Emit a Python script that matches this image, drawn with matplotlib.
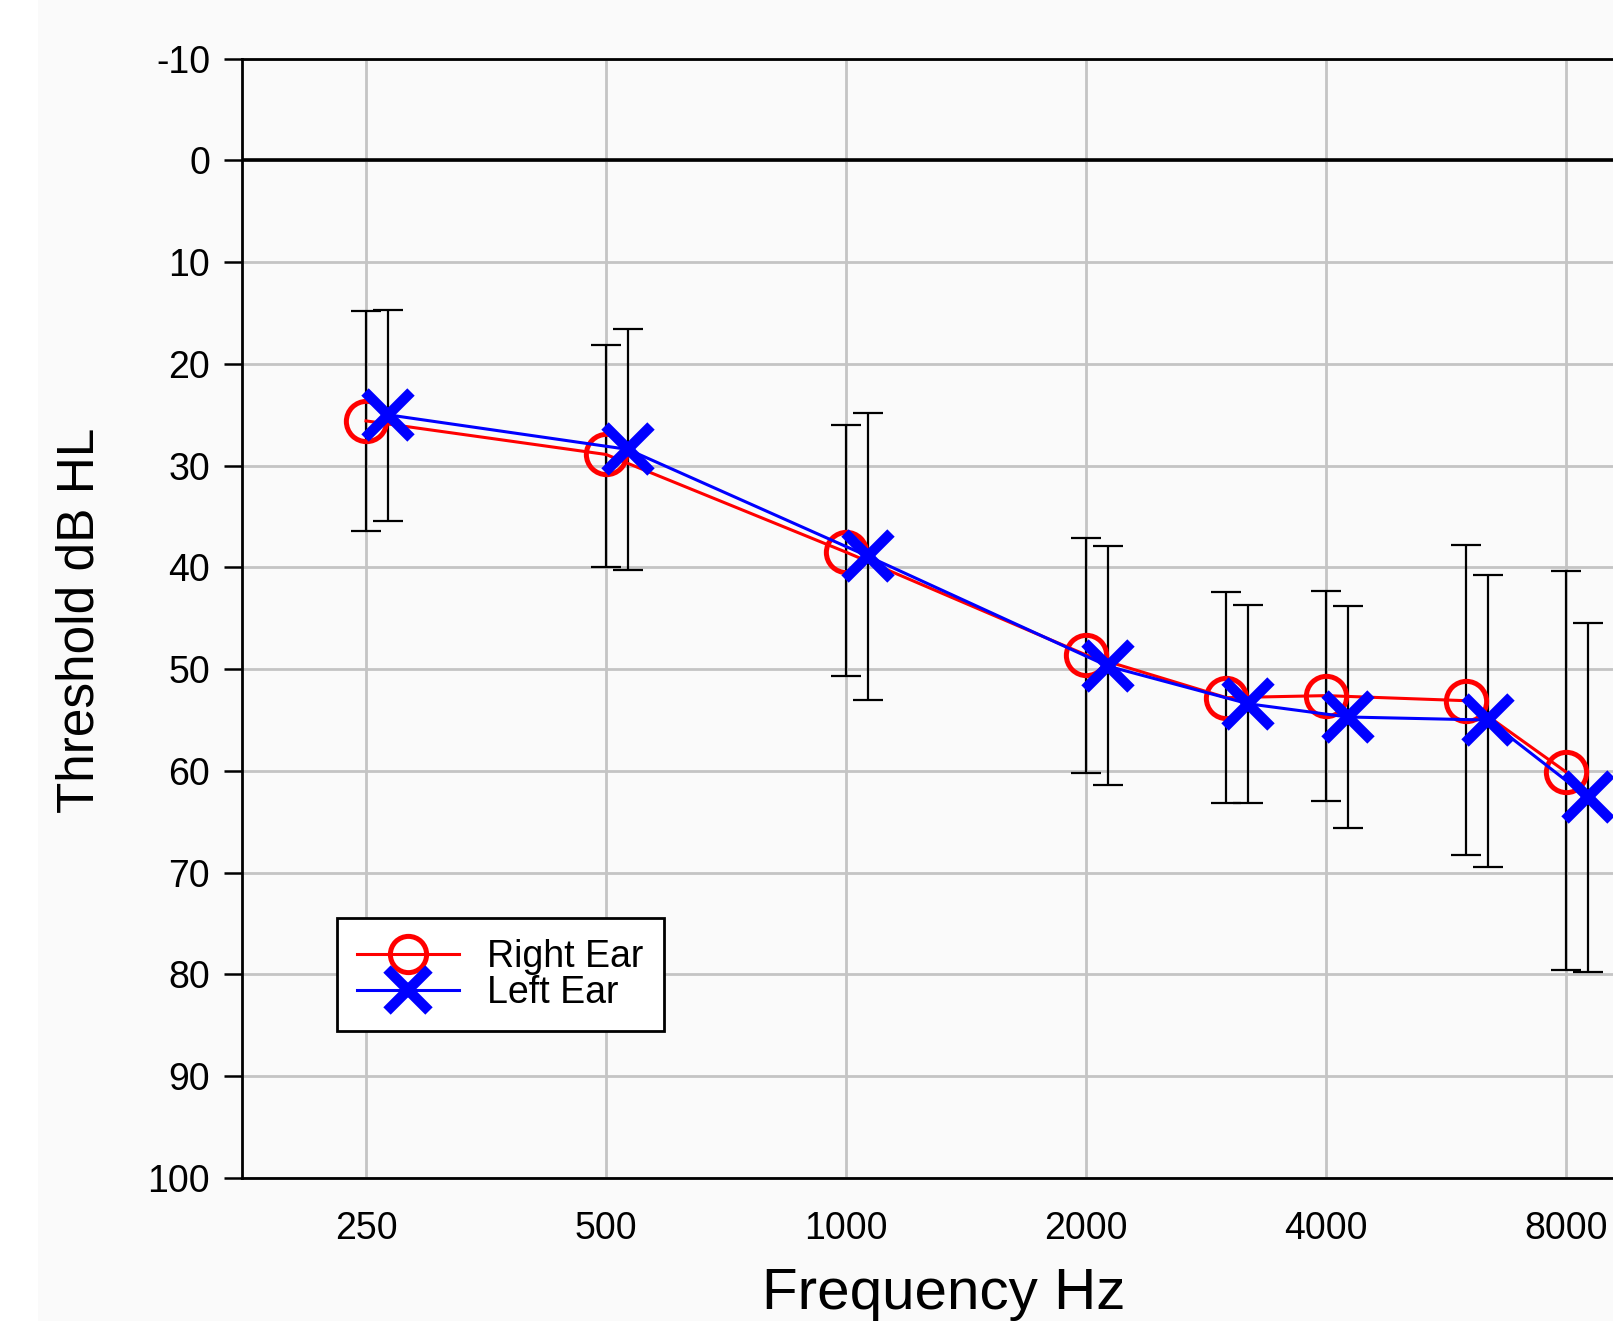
import matplotlib.pyplot as plt
from matplotlib.ticker import FixedLocator, NullLocator

plt.rcParams['font.family'] = ['Liberation Sans', 'DejaVu Sans']
plt.rcParams['axes.unicode_minus'] = False

freqs = [250, 500, 1000, 2000, 3000, 4000, 6000, 8000]
freq_labels = ["250", "500", "1000", "2000", "4000", "8000"]
label_freqs = [250, 500, 1000, 2000, 4000, 8000]

right_ear = [25.6, 28.9, 38.5, 48.6, 52.8, 52.6, 53.1, 60.1]
right_top = [14.8, 18.1, 26.0, 37.1, 42.4, 42.3, 37.8, 40.4]
right_bot = [36.4, 40.0, 50.7, 60.2, 63.2, 63.0, 68.3, 79.6]

left_ear = [25.0, 28.4, 38.9, 49.7, 53.4, 54.7, 55.0, 62.6]
left_top = [14.7, 16.6, 24.8, 37.9, 43.7, 43.8, 40.7, 45.5]
left_bot = [35.4, 40.3, 53.0, 61.4, 63.2, 65.6, 69.4, 79.8]

left_shift = 1.065
left_freqs = [f * left_shift for f in freqs]

bg = "#fafafa"
fig = plt.figure(figsize=(16.13, 13.21), dpi=100, facecolor=bg)
ax = fig.add_axes([0.150, 0.1083, 0.8915, 0.8473])
ax.set_facecolor(bg)

ax.set_xscale("log")
ax.set_xlim(174.7, 11118)
ax.set_ylim(100, -10)

# grid
ax.xaxis.set_major_locator(FixedLocator(label_freqs))
ax.xaxis.set_minor_locator(NullLocator())
ax.set_xticklabels(freq_labels)
ax.set_yticks(range(-10, 101, 10))
ax.grid(True, color="#c4c4c4", linewidth=2.0, zorder=0)
ax.set_axisbelow(True)
ax.axhline(0, color="black", linewidth=2.6, zorder=1)

# error bars
r_err = [[m - t for m, t in zip(right_ear, right_top)], [b - m for m, b in zip(right_ear, right_bot)]]
l_err = [[m - t for m, t in zip(left_ear, left_top)], [b - m for m, b in zip(left_ear, left_bot)]]
ax.errorbar(freqs, right_ear, yerr=r_err, fmt="none", ecolor="black", elinewidth=1.6,
            capsize=11, capthick=1.6, zorder=2)
ax.errorbar(left_freqs, left_ear, yerr=l_err, fmt="none", ecolor="black", elinewidth=1.6,
            capsize=11, capthick=1.6, zorder=2)

ax.plot(freqs, right_ear, color="red", linewidth=2.2, marker="o", markersize=29,
        markerfacecolor="none", markeredgecolor="red", markeredgewidth=3.6,
        label="Right Ear", zorder=3)
ax.plot(left_freqs, left_ear, color="blue", linewidth=2.2, marker="x", markersize=33,
        markeredgecolor="blue", markeredgewidth=7.5, label="Left Ear", zorder=4)

for s in ["left", "top", "bottom"]:
    ax.spines[s].set_linewidth(2.0)
    ax.spines[s].set_color("black")
ax.spines["right"].set_visible(False)

ax.tick_params(axis="y", direction="out", length=13, width=1.8, pad=10, labelsize=27)
ax.tick_params(axis="x", length=0, pad=24, labelsize=27)

leg = ax.legend(loc="lower left", bbox_to_anchor=(0.066, 0.131), fontsize=27,
                frameon=True, fancybox=False, edgecolor="black", framealpha=1,
                facecolor="white", handlelength=2.7, borderpad=0.55,
                labelspacing=0.0, handletextpad=0.75, borderaxespad=0)
leg.get_frame().set_linewidth(2.0)
for h in leg.legend_handles:
    h.set_markersize(h.get_markersize() * 0.9)

fig.text(80 / 1613, 1 - 620 / 1321, "Threshold dB HL", rotation=90, ha="center",
         va="center", fontsize=37)
fig.text(944 / 1613, 1 - 1294 / 1321, "Frequency Hz", ha="center", va="center", fontsize=42)

# white strip on the far left
fig.patches.append(plt.Rectangle((0, 0), 38 / 1613, 1, transform=fig.transFigure,
                                 facecolor="white", edgecolor="none", zorder=-1))

fig.savefig("out.png", dpi=100, facecolor=bg)
